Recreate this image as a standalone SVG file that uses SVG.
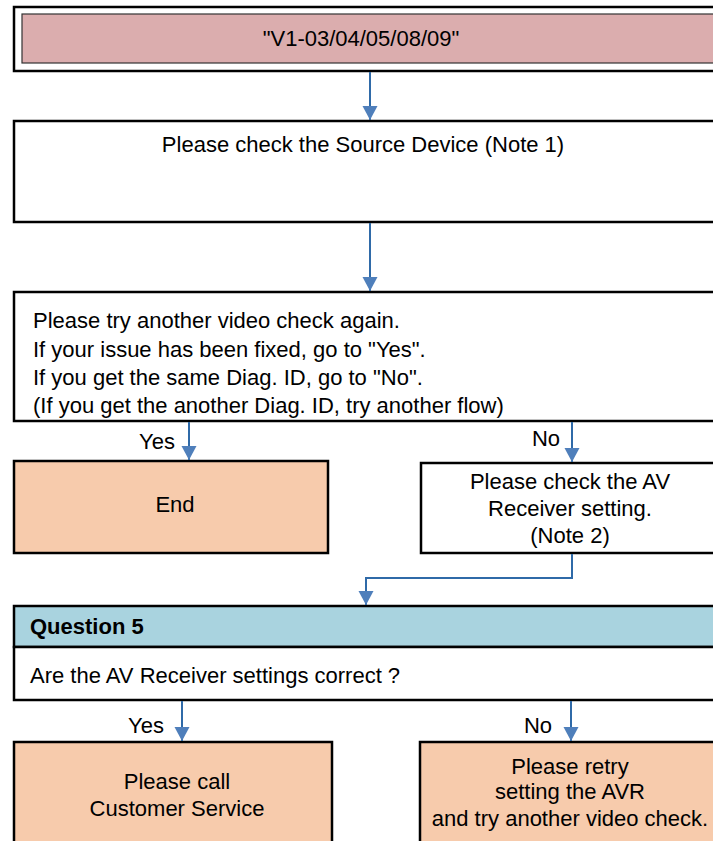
<svg xmlns="http://www.w3.org/2000/svg" width="713" height="841" viewBox="0 0 713 841">
<defs>
<style>
text{font-family:"Liberation Sans",Arial,sans-serif;font-size:22px;fill:#000}
.c{text-anchor:middle}
.b{font-weight:bold}
.box{stroke:#000;stroke-width:2.5}
.conn{fill:none;stroke:#2f6aa8;stroke-width:2}
</style>
<marker id="ah" markerUnits="userSpaceOnUse" markerWidth="16" markerHeight="16" refX="14" refY="7.5" orient="auto">
<path d="M0,0 L14,7.5 L0,15 Z" fill="#4f7fbb"/>
</marker>
</defs>
<rect width="713" height="841" fill="#fff"/>
<g id="start">
<rect class="box" x="14" y="7" width="760" height="64" fill="#fff"/>
<rect x="22" y="14" width="750" height="49" fill="#dbadae" stroke="#333" stroke-width="1.2"/>
<text class="c" x="361" y="46">"V1-03/04/05/08/09"</text>
</g>
<g id="check-source">
<rect class="box" x="14" y="121" width="760" height="101" fill="#fff"/>
<text class="c" x="363" y="152">Please check the Source Device (Note 1)</text>
</g>
<g id="retry-video">
<rect class="box" x="14" y="292" width="760" height="129" fill="#fff"/>
<text x="33" y="328">Please try another video check again.</text>
<text x="33" y="357">If your issue has been fixed, go to "Yes".</text>
<text x="33" y="385">If you get the same Diag. ID, go to "No".</text>
<text x="33" y="413">(If you get the another Diag. ID, try another flow)</text>
</g>
<g id="end">
<rect class="box" x="14" y="461" width="314" height="92" fill="#f7cbac"/>
<text class="c" x="175" y="512">End</text>
</g>
<g id="check-avr">
<rect class="box" x="421" y="463" width="360" height="90" fill="#fff"/>
<text class="c" x="570" y="489">Please check the AV</text>
<text class="c" x="570" y="516">Receiver setting.</text>
<text class="c" x="570" y="543">(Note 2)</text>
</g>
<g id="question5">
<rect class="box" x="14" y="606" width="760" height="41" fill="#a9d3df"/>
<rect class="box" x="14" y="647" width="760" height="53" fill="#fff"/>
<text class="b" x="30" y="634">Question 5</text>
<text x="30" y="683">Are the AV Receiver settings correct ?</text>
</g>
<g id="call-service">
<rect class="box" x="14" y="742" width="318" height="120" fill="#f7cbac"/>
<text class="c" x="177" y="789">Please call</text>
<text class="c" x="177" y="816">Customer Service</text>
</g>
<g id="retry-avr">
<rect class="box" x="420" y="742" width="360" height="120" fill="#f7cbac"/>
<text class="c" x="570" y="774">Please retry</text>
<text class="c" x="570" y="799">setting the AVR</text>
<text class="c" x="570" y="826">and try another video check.</text>
</g>
<g id="connectors">
<path class="conn" d="M370,72 V120" marker-end="url(#ah)"/>
<path class="conn" d="M370,223 V291" marker-end="url(#ah)"/>
<path class="conn" d="M189,422 V460" marker-end="url(#ah)"/>
<path class="conn" d="M572,422 V462" marker-end="url(#ah)"/>
<path class="conn" d="M572,554 V578 H366 V605" marker-end="url(#ah)"/>
<path class="conn" d="M182,701 V741" marker-end="url(#ah)"/>
<path class="conn" d="M571,701 V741" marker-end="url(#ah)"/>
<text class="c" x="157" y="449">Yes</text>
<text class="c" x="546" y="446">No</text>
<text class="c" x="146" y="733">Yes</text>
<text class="c" x="538" y="733">No</text>
</g>
</svg>
